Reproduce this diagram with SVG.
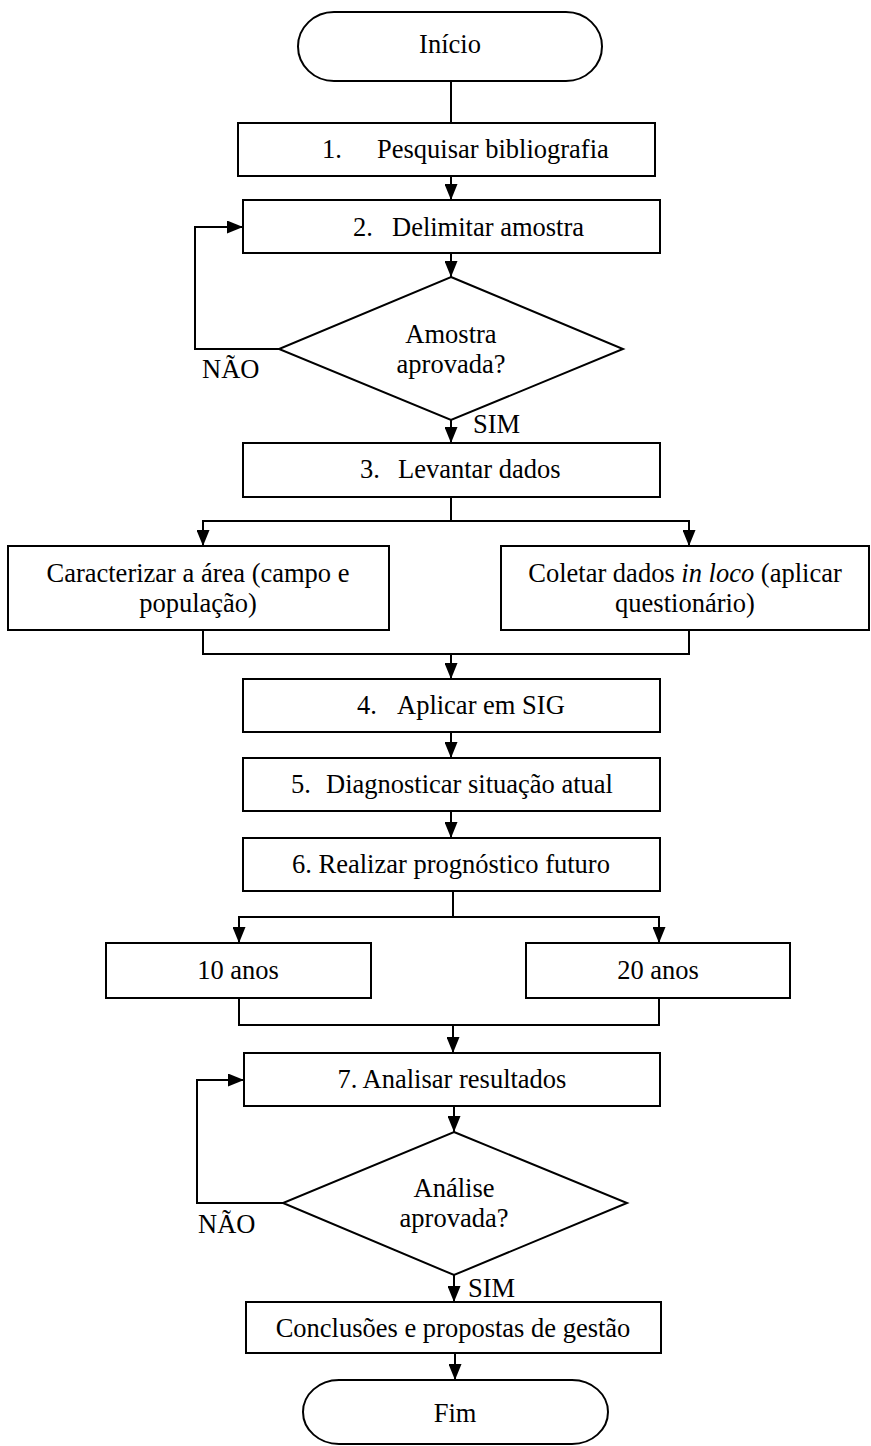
<svg xmlns="http://www.w3.org/2000/svg" width="871" height="1446" viewBox="0 0 871 1446">
<style>
.n{fill:#fff;stroke:#000;stroke-width:2}
.t{font-family:"Liberation Serif","Times New Roman",serif;font-size:26.5px;fill:#000}
.c{text-anchor:middle}
.e{fill:none;stroke:#000;stroke-width:2}
</style>
<defs>
<marker id="ah" viewBox="0 0 16 13" refX="16" refY="6.5" markerWidth="16" markerHeight="13" markerUnits="userSpaceOnUse" orient="auto">
<path d="M0,0 L16,6.5 L0,13 z" fill="#000"/>
</marker>
</defs>
<g id="connectors">
<path class="e" d="M451,81 V123"/>
<path class="e" d="M451,176 V200" marker-end="url(#ah)"/>
<path class="e" d="M451,253 V277" marker-end="url(#ah)"/>
<path class="e" d="M279,349 H195 V227 H243" marker-end="url(#ah)"/>
<path class="e" d="M451,420 V443" marker-end="url(#ah)"/>
<path class="e" d="M451,497 V521"/>
<path class="e" d="M451,521 H203 V546" marker-end="url(#ah)"/>
<path class="e" d="M451,521 H689 V546" marker-end="url(#ah)"/>
<path class="e" d="M203,630 V654 H689 V630"/>
<path class="e" d="M451,654 V679" marker-end="url(#ah)"/>
<path class="e" d="M451,732 V758" marker-end="url(#ah)"/>
<path class="e" d="M451,811 V838" marker-end="url(#ah)"/>
<path class="e" d="M453,891 V917"/>
<path class="e" d="M453,917 H239 V943" marker-end="url(#ah)"/>
<path class="e" d="M453,917 H659 V943" marker-end="url(#ah)"/>
<path class="e" d="M239,998 V1025 H659 V998"/>
<path class="e" d="M453,1025 V1053" marker-end="url(#ah)"/>
<path class="e" d="M454,1106 V1132" marker-end="url(#ah)"/>
<path class="e" d="M283,1203 H197 V1080 H244" marker-end="url(#ah)"/>
<path class="e" d="M454,1275 V1302" marker-end="url(#ah)"/>
<path class="e" d="M455,1353 V1380" marker-end="url(#ah)"/>
<text class="t" x="202" y="378">NÃO</text>
<text class="t" x="473" y="433">SIM</text>
<text class="t" x="198" y="1233">NÃO</text>
<text class="t" x="468" y="1297">SIM</text>
</g>
<g id="inicio">
<rect class="n" x="298" y="12" width="304" height="69" rx="36" ry="34.5"/>
<text class="t c" x="450" y="53">Início</text>
</g>
<g id="step1">
<rect class="n" x="238" y="123" width="417" height="53"/>
<text class="t"><tspan x="322" y="158">1.</tspan><tspan x="377" y="158">Pesquisar bibliografia</tspan></text>
</g>
<g id="step2">
<rect class="n" x="243" y="200" width="417" height="53"/>
<text class="t"><tspan x="353" y="236">2.</tspan><tspan x="392" y="236">Delimitar amostra</tspan></text>
</g>
<g id="dec1">
<polygon class="n" points="451,277 623,349 451,420 279,349"/>
<text class="t c" x="451" y="343">Amostra</text>
<text class="t c" x="451" y="373">aprovada?</text>
</g>
<g id="step3">
<rect class="n" x="243" y="443" width="417" height="54"/>
<text class="t"><tspan x="360" y="478">3.</tspan><tspan x="398" y="478">Levantar dados</tspan></text>
</g>
<g id="caracterizar">
<rect class="n" x="8" y="546" width="381" height="84"/>
<text class="t c" x="198" y="582">Caracterizar a área (campo e</text>
<text class="t c" x="198" y="612">população)</text>
</g>
<g id="coletar">
<rect class="n" x="501" y="546" width="368" height="84"/>
<text class="t c" x="685" y="582">Coletar dados <tspan font-style="italic">in loco</tspan> (aplicar</text>
<text class="t c" x="685" y="612">questionário)</text>
</g>
<g id="step4">
<rect class="n" x="243" y="679" width="417" height="53"/>
<text class="t"><tspan x="357" y="714">4.</tspan><tspan x="397" y="714">Aplicar em SIG</tspan></text>
</g>
<g id="step5">
<rect class="n" x="243" y="758" width="417" height="53"/>
<text class="t"><tspan x="291" y="793">5.</tspan><tspan x="326" y="793">Diagnosticar situação atual</tspan></text>
</g>
<g id="step6">
<rect class="n" x="243" y="838" width="417" height="53"/>
<text class="t c" x="451" y="873">6. Realizar prognóstico futuro</text>
</g>
<g id="anos10">
<rect class="n" x="106" y="943" width="265" height="55"/>
<text class="t c" x="238" y="979">10 anos</text>
</g>
<g id="anos20">
<rect class="n" x="526" y="943" width="264" height="55"/>
<text class="t c" x="658" y="979">20 anos</text>
</g>
<g id="step7">
<rect class="n" x="244" y="1053" width="416" height="53"/>
<text class="t c" x="452" y="1088">7. Analisar resultados</text>
</g>
<g id="dec2">
<polygon class="n" points="454,1132 627,1203 454,1275 283,1203"/>
<text class="t c" x="454" y="1197">Análise</text>
<text class="t c" x="454" y="1227">aprovada?</text>
</g>
<g id="conclusoes">
<rect class="n" x="246" y="1302" width="415" height="51"/>
<text class="t c" x="453" y="1337">Conclusões e propostas de gestão</text>
</g>
<g id="fim">
<rect class="n" x="303" y="1380" width="305" height="64" rx="36" ry="32"/>
<text class="t c" x="455" y="1422">Fim</text>
</g>
</svg>
